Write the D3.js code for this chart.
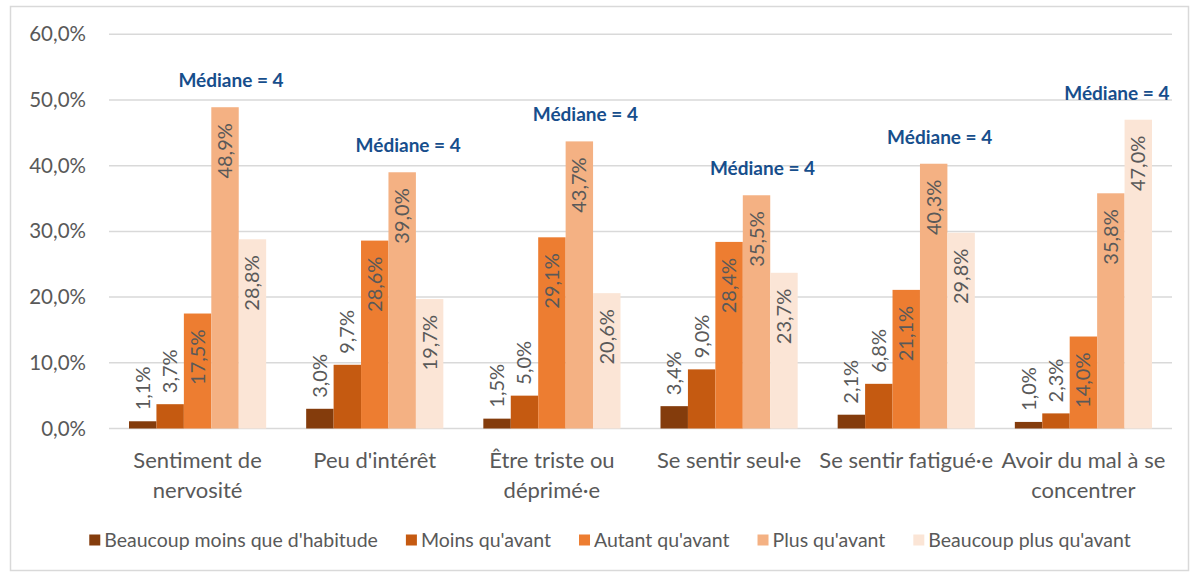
<!DOCTYPE html>
<html>
<head>
<meta charset="utf-8">
<script src="https://cdn.jsdelivr.net/npm/d3@7"></script>
<style>
  body { margin: 0; background: #fff; }
  svg { font-family: Lato, "Open Sans", sans-serif; }
</style>
</head>
<body>
<svg width="1194" height="574"></svg>
<script>
// Données
const categories = [
  ["Sentiment de", "nervosité"],
  ["Peu d'intérêt"],
  ["Être triste ou", "déprimé·e"],
  ["Se sentir seul·e"],
  ["Se sentir fatigué·e"],
  ["Avoir du mal à se", "concentrer"]
];
const series = ["Beaucoup moins que d'habitude", "Moins qu'avant", "Autant qu'avant", "Plus qu'avant", "Beaucoup plus qu'avant"];
const beaucoupMoins = [1.1, 3.0, 1.5, 3.4, 2.1, 1.0];
const moins = [3.7, 9.7, 5.0, 9.0, 6.8, 2.3];
const autant = [17.5, 28.6, 29.1, 28.4, 21.1, 14.0];
const plus = [48.9, 39.0, 43.7, 35.5, 40.3, 35.8];
const beaucoupPlus = [28.8, 19.7, 20.6, 23.7, 29.8, 47.0];
const medianes = [4, 4, 4, 4, 4, 4];
const yTicks = [0, 10, 20, 30, 40, 50, 60];

const values = [beaucoupMoins, moins, autant, plus, beaucoupPlus];
const data = categories.map((c, i) => ({
  i,
  label: c,
  vals: series.map((s, k) => ({ key: s, k, value: values[k][i] }))
}));

const svg = d3.select("svg");
const fmt = v => v.toFixed(1).replace(".", ",") + "%";
const textColor = "#595959";

// cadre
svg.append("rect")
  .attr("x", 10.5).attr("y", 6.5)
  .attr("width", 1178).attr("height", 564)
  .attr("fill", "none").attr("stroke", "#d9d9d9").attr("stroke-width", 1.5);

// Échelles
const x0 = d3.scaleBand()
  .domain(d3.range(categories.length))
  .range([109, 1172]);

const gap = 20;
const x1 = d3.scaleBand()
  .domain(d3.range(series.length))
  .range([gap, x0.bandwidth() - gap]);

const y = d3.scaleLinear()
  .domain([0, 60])
  .range([428.5, 34.3]);

const color = d3.scaleOrdinal()
  .domain(d3.range(series.length))
  .range(["#843C0C", "#C55A11", "#ED7D31", "#F4B183", "#FBE5D6"]);

// Grille
svg.append("g")
  .selectAll("line")
  .data(yTicks)
  .join("line")
  .attr("x1", 109).attr("x2", 1172)
  .attr("y1", d => y(d)).attr("y2", d => y(d))
  .attr("stroke", "#d9d9d9").attr("stroke-width", 1.5);

// Axe Y
const yAxis = svg.append("g")
  .attr("transform", "translate(86,0)")
  .call(d3.axisLeft(y).tickValues(yTicks).tickSize(0).tickPadding(0).tickFormat(fmt))
  .call(g => g.select(".domain").remove());
yAxis.selectAll("text")
  .attr("fill", textColor)
  .attr("font-size", 20.5)
  .attr("font-family", "Lato, sans-serif");

// Barres
const groups = svg.append("g")
  .selectAll("g")
  .data(data)
  .join("g")
  .attr("transform", d => `translate(${x0(d.i)},0)`);

groups.selectAll("rect")
  .data(d => d.vals)
  .join("rect")
  .attr("x", d => x1(d.k))
  .attr("y", d => y(d.value))
  .attr("width", x1.bandwidth())
  .attr("height", d => y(0) - y(d.value))
  .attr("fill", d => color(d.k));

// Étiquettes
groups.selectAll("text.lbl")
  .data(d => d.vals)
  .join("text")
  .attr("class", "lbl")
  .attr("font-size", 20)
  .attr("fill", textColor)
  .attr("dy", "0.35em")
  .text(d => fmt(d.value))
  .each(function (d) {
    const len = this.getComputedTextLength();
    const h = y(0) - y(d.value);
    const cx = x1(d.k) + x1.bandwidth() / 2;
    const inside = h > len + 24;
    const t = d3.select(this);
    if (inside) {
      t.attr("text-anchor", "end")
        .attr("transform", `translate(${cx},${y(d.value) + 16}) rotate(-90)`);
    } else {
      t.attr("text-anchor", "start")
        .attr("transform", `translate(${cx},${y(d.value) - 11}) rotate(-90)`);
    }
  });

// Médianes
groups.append("text")
  .attr("x", x1(3) + x1.bandwidth() / 2 + 6)
  .attr("y", d => y(d3.max(d.vals, v => v.value)) - 20)
  .attr("text-anchor", "middle")
  .attr("font-size", 19)
  .attr("font-weight", "bold")
  .attr("fill", "#174E8C")
  .text(d => `Médiane = ${medianes[d.i]}`);

// Catégories
groups.append("text")
  .attr("x", x0.bandwidth() / 2)
  .attr("text-anchor", "middle")
  .attr("font-size", 22)
  .attr("fill", textColor)
  .selectAll("tspan")
  .data(d => d.label)
  .join("tspan")
  .attr("x", x0.bandwidth() / 2)
  .attr("y", (d, j) => 468 + j * 30)
  .text(d => d);

// Légende
const legend = svg.append("g").attr("font-size", 19.5).attr("fill", textColor);
const items = legend.selectAll("g")
  .data(series)
  .join("g");
items.append("rect")
  .attr("width", 11).attr("height", 11)
  .attr("y", 534.5)
  .attr("fill", (d, i) => color(i));
items.append("text")
  .attr("x", 15)
  .attr("y", 540)
  .attr("dy", "0.35em")
  .text(d => d);
let widths = [];
items.each(function () { widths.push(this.getBBox().width); });
const spacing = 28;
const total = d3.sum(widths) + spacing * (widths.length - 1);
let cursor = 610 - total / 2;
items.attr("transform", (d, i) => {
  const tx = cursor;
  cursor += widths[i] + spacing;
  return `translate(${tx},0)`;
});
</script>
</body>
</html>
